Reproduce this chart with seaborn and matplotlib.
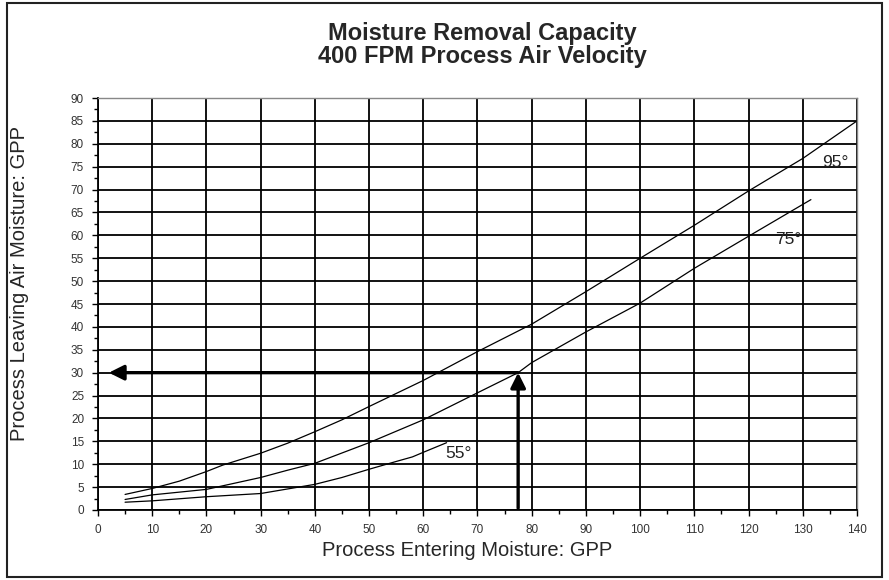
import matplotlib
matplotlib.use("Agg")
import matplotlib.pyplot as plt
from matplotlib.patches import Rectangle
from matplotlib.ticker import MultipleLocator
import seaborn as sns
import pandas as pd

# Leaving-air moisture (GPP) vs entering moisture (GPP) for three reactivation temps
x_95 = [5, 10, 15, 20, 23, 30, 35, 40, 45, 50, 60, 70, 80, 90, 100, 110, 120, 130, 140]
y_95 = [3.4, 4.7, 6.3, 8.4, 9.8, 12.4, 14.6, 17.1, 19.7, 22.6, 28.3, 34.6, 40.6, 47.7, 55.0, 62.2, 69.7, 76.8, 85.0]

x_75 = [5, 10, 20, 30, 35, 40, 50, 60, 70, 77.5, 80, 90, 100, 110, 120, 131.5]
y_75 = [2.3, 3.3, 4.5, 7.1, 8.7, 10.2, 14.7, 19.7, 25.6, 30.0, 32.2, 38.9, 45.2, 52.8, 59.8, 67.8]

x_55 = [5, 10, 20, 30, 35, 40, 45, 50, 55, 58, 60, 64.3]
y_55 = [1.7, 2.0, 2.9, 3.6, 4.6, 5.6, 7.1, 8.9, 10.6, 11.6, 12.6, 14.7]

curve_labels = ["95°", "75°", "55°"]
label_x = [136, 127.3, 66.5]
label_y = [76, 59, 12.4]

# Worked example: 77.5 GPP entering on the 75° curve gives 30 GPP leaving
example_in = 77.5
example_out = 30.0

x_label = "Process Entering Moisture: GPP"
y_label = "Process Leaving Air Moisture: GPP"

df = pd.concat([
    pd.DataFrame({"entering": x_95, "leaving": y_95, "temp": "95°"}),
    pd.DataFrame({"entering": x_75, "leaving": y_75, "temp": "75°"}),
    pd.DataFrame({"entering": x_55, "leaving": y_55, "temp": "55°"}),
])

sns.set_style("white")
plt.rcParams["font.family"] = ["Liberation Sans", "DejaVu Sans"]

fig = plt.figure(figsize=(8.89, 5.8), dpi=100)
ax = fig.add_axes([0.1102, 0.1207, 0.8538, 0.7103])

sns.lineplot(data=df, x="entering", y="leaving", units="temp", estimator=None,
             sort=False, color="black", lw=0.9, ax=ax, legend=False)

ax.set_xlim(0, 140)
ax.set_ylim(0, 90)
ax.xaxis.set_major_locator(MultipleLocator(10))
ax.xaxis.set_minor_locator(MultipleLocator(5))
ax.yaxis.set_major_locator(MultipleLocator(5))
ax.yaxis.set_minor_locator(MultipleLocator(2.5))
ax.grid(True, which="major", color="black", lw=1.3)
ax.set_axisbelow(True)

ax.tick_params(axis="both", which="major", direction="out", length=4, width=1,
               labelsize=8.5, labelcolor="#333333", color="black", pad=6)
ax.tick_params(axis="both", which="minor", direction="out", length=3, width=1, color="black")
ax.tick_params(left=True, bottom=True, which="both")

for side in ["left", "bottom"]:
    ax.spines[side].set_color("black")
    ax.spines[side].set_linewidth(1.3)
for side in ["top", "right"]:
    ax.spines[side].set_color("#888888")
    ax.spines[side].set_linewidth(1.0)

for txt, lx, ly in zip(curve_labels, label_x, label_y):
    ax.text(lx, ly, txt, fontsize=12.5, color="#222222", ha="center", va="center")

arrow_style = dict(arrowstyle="-|>,head_length=0.9,head_width=0.45", color="black",
                   lw=2.4, shrinkA=0, shrinkB=0)
ax.annotate("", xy=(example_in, example_out), xytext=(example_in, 0.4), arrowprops=arrow_style)
ax.annotate("", xy=(2.0, example_out), xytext=(example_in, example_out), arrowprops=arrow_style)

ax.set_xlabel(x_label, fontsize=14.5, labelpad=4)
ax.xaxis.label.set_x(0.487)
ax.set_ylabel(y_label, fontsize=14.5, va="center")
ax.yaxis.set_label_coords(-0.104, 0.55)

fig.text(0.543, 0.943, "Moisture Removal Capacity", ha="center", va="center",
         fontsize=17, fontweight="bold")
fig.text(0.543, 0.902, "400 FPM Process Air Velocity", ha="center", va="center",
         fontsize=17, fontweight="bold")

fig.patches.append(Rectangle((0.008, 0.005), 0.984, 0.99, transform=fig.transFigure,
                             fill=False, edgecolor="#222222", lw=1.5))

fig.savefig("out.png", dpi=100)
